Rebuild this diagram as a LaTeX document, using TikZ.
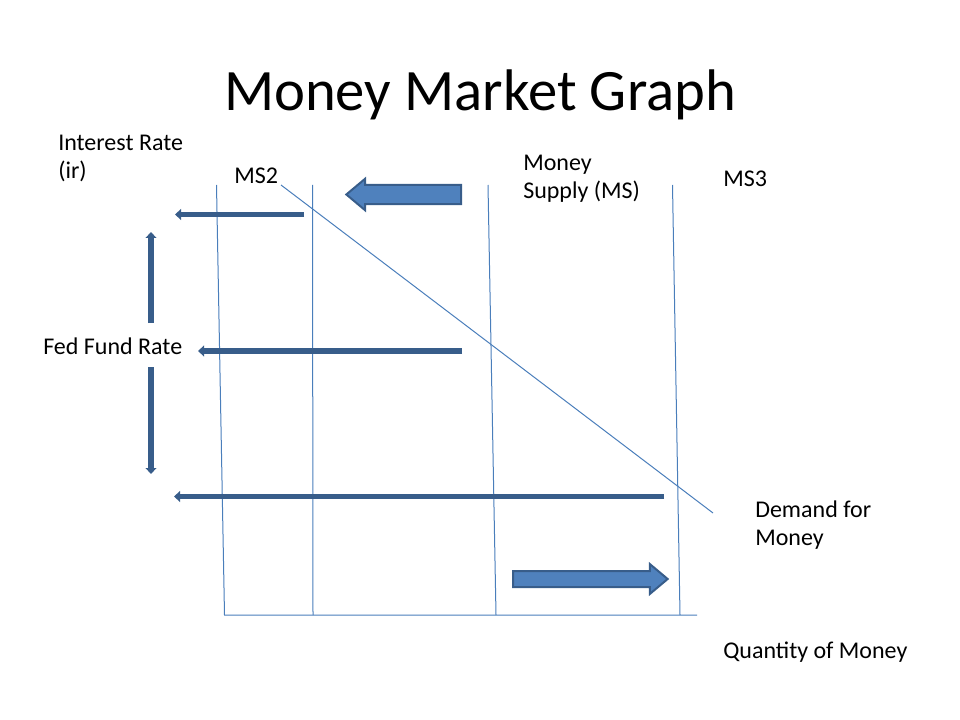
\documentclass[tikz,border=0pt]{standalone}
\usepackage{fontspec}
\setmainfont{Carlito}
\usepackage{xcolor}
\usetikzlibrary{arrows.meta, shapes.arrows}
\definecolor{axisblue}{HTML}{4A7EBB}
\definecolor{shiftblue}{HTML}{385D8A}
\definecolor{fillblue}{HTML}{4F81BD}

\begin{document}
\begin{tikzpicture}[x=0.75pt, y=-0.75pt,
    lbl/.style={anchor=base west, inner sep=0pt, align=left, font=\fontsize{18}{21}\selectfont},
    curve/.style={draw=axisblue, line width=0.75pt},
    ratearrow/.style={draw=shiftblue, line width=4pt, -{Triangle[length=4.5pt, width=8pt]}},
    blockarrow/.style={single arrow, draw=shiftblue, fill=fillblue, line width=1.5pt, inner xsep=0pt, single arrow tip angle=80, anchor=tail}]
    \useasboundingbox (0,0) rectangle (960,720);

    \node[anchor=base, inner sep=0pt, font=\fontsize{44}{53}\selectfont] (title) at (480,111) {Money Market Graph};

    % axes and curves
    \coordinate (ytop) at (216.5,185);
    \coordinate (origin) at (224.5,615);
    \coordinate (xend) at (697,615);
    \coordinate (ms2top) at (312.5,185);
    \coordinate (ms2bot) at (313,615);
    \coordinate (mstop) at (488,185);
    \coordinate (msbot) at (496,615);
    \coordinate (ms3top) at (672.5,185);
    \coordinate (ms3bot) at (680,615);
    \coordinate (dtop) at (281,185);
    \coordinate (dbot) at (713,513);

    \draw[curve] (ytop) -- (origin) -- (xend);
    \draw[curve] (ms2top) -- (ms2bot);
    \draw[curve] (mstop) -- (msbot);
    \draw[curve] (ms3top) -- (ms3bot);
    \draw[curve] (dtop) -- (dbot);

    % rate shifts
    \coordinate (ms2rate) at (304,214.5);
    \coordinate (ms2end) at (175,214.5);
    \coordinate (msrate) at (462,351);
    \coordinate (msend) at (198,351);
    \coordinate (ms3rate) at (664,496.5);
    \coordinate (ms3end) at (174,496.5);
    \coordinate (upstart) at (151,323);
    \coordinate (upend) at (151,232);
    \coordinate (downstart) at (151,367);
    \coordinate (downend) at (151,474);

    \draw[ratearrow] (ms2rate) -- (ms2end);
    \draw[ratearrow] (msrate) -- (msend);
    \draw[ratearrow] (ms3rate) -- (ms3end);
    \draw[ratearrow] (upstart) -- (upend);
    \draw[ratearrow] (downstart) -- (downend);

    % supply shifts
    \node[blockarrow, inner ysep=6.5pt, single arrow head extend=4.5pt, minimum height=86pt, shape border rotate=180] (leftshift) at (462,194.5) {};
    \node[blockarrow, inner ysep=5.25pt, single arrow head extend=5.25pt, minimum height=116pt] (rightshift) at (512,579) {};

    % labels
    \node[lbl] (irlabel) at (58,179) {Interest Rate\\(ir)};
    \node[lbl] (ms2label) at (234,184) {MS2};
    \node[lbl] (mslabel) at (523,198.5) {Money\\Supply (MS)};
    \node[lbl] (ms3label) at (723,187) {MS3};
    \node[lbl] (fedlabel) at (43,354) {Fed Fund Rate};
    \node[lbl] (demandlabel) at (755,545) {Demand for\\Money};
    \node[lbl] (qtylabel) at (723,658) {Quantity of Money};
\end{tikzpicture}
\end{document}
